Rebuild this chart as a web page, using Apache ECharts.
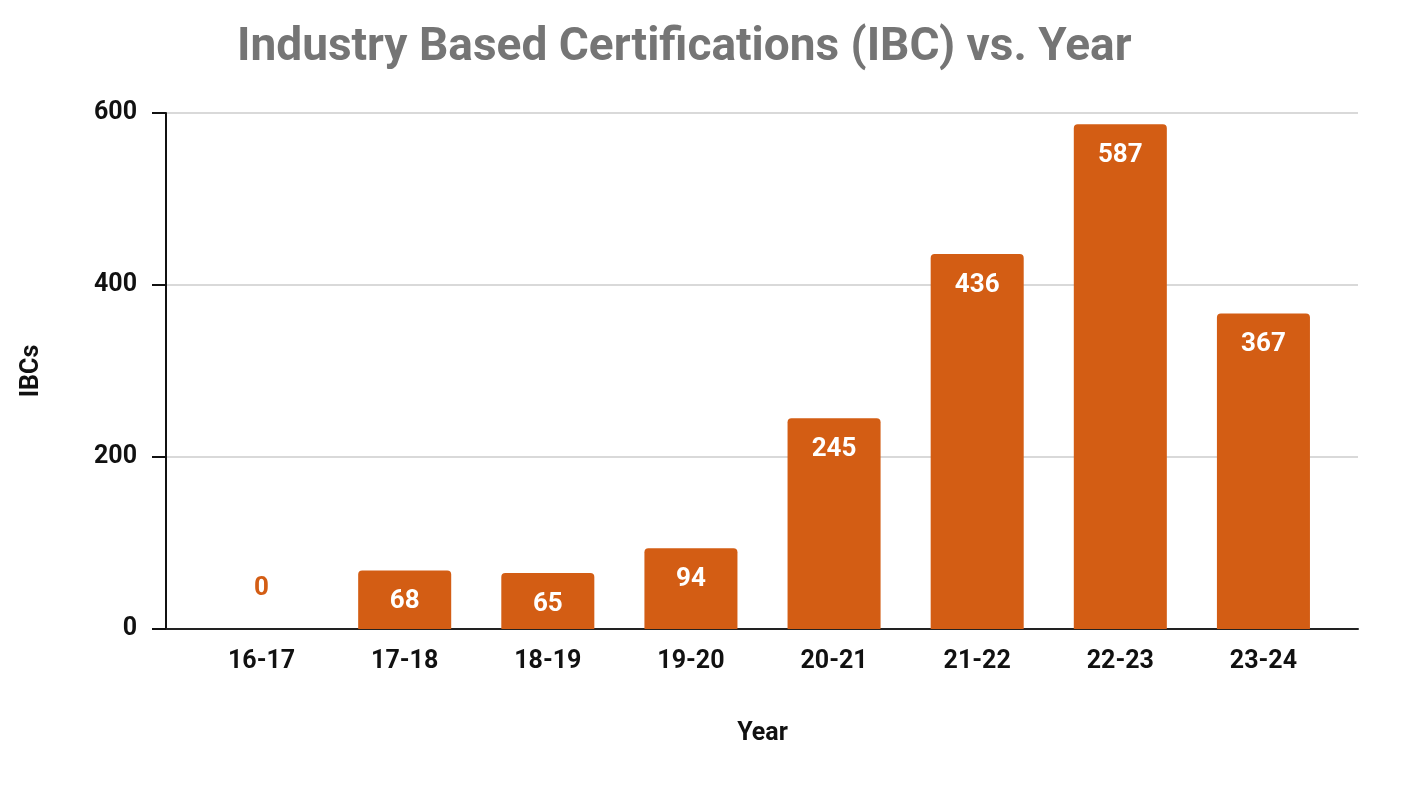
<!DOCTYPE html>
<html>
<head>
<meta charset="utf-8">
<script src="https://cdn.jsdelivr.net/npm/echarts@6/dist/echarts.min.js"></script>
<style>
html,body{margin:0;padding:0;background:#fff;}
#chart{width:1403px;height:785px;}
</style>
</head>
<body>
<div id="chart"></div>
<script>
const categories = ['16-17','17-18','18-19','19-20','20-21','21-22','22-23','23-24'];
const ibcValues = [0, 68, 65, 94, 245, 436, 587, 367];
const yTicks = [0, 200, 400, 600];

const barColor = '#D35D14';
const font = 'Roboto';

const chart = echarts.init(document.getElementById('chart'));
const seriesData = ibcValues.map(v => v === 0 ? {
  value: v,
  label: {position: 'top', distance: 28, color: barColor}
} : v);

chart.setOption({
  backgroundColor: '#ffffff',
  animation: false,
  title: {
    text: 'Industry Based Certifications (IBC) vs. Year',
    left: 232, top: 20,
    textStyle: {fontFamily: font, fontWeight: 'bold', fontSize: 46, color: '#757575'}
  },
  grid: [
    {left: 166, right: 45, top: 113, bottom: 156},
    {left: 190, right: 68, top: 113, bottom: 156}
  ],
  xAxis: [
    {
      gridIndex: 0, type: 'value', min: 0, max: 1,
      axisLine: {show: true, lineStyle: {color: '#222', width: 2}},
      axisTick: {show: false}, axisLabel: {show: false}, splitLine: {show: false}
    },
    {
      gridIndex: 1, type: 'category', data: categories,
      axisLine: {show: false}, axisTick: {show: false},
      axisLabel: {margin: 20, fontFamily: font, fontWeight: 'bold', fontSize: 25, color: '#111'},
      name: 'Year', nameLocation: 'middle', nameGap: 92,
      nameTextStyle: {fontFamily: font, fontWeight: 'bold', fontSize: 25, color: '#111'}
    }
  ],
  yAxis: [
    {
      gridIndex: 0, type: 'value', min: yTicks[0], max: yTicks[yTicks.length-1], interval: 200,
      axisLine: {show: true, lineStyle: {color: '#111', width: 2}},
      axisTick: {show: true, length: 14, lineStyle: {color: '#111', width: 2}},
      axisLabel: {margin: 29, fontFamily: font, fontWeight: 'bold', fontSize: 25, color: '#111'},
      splitLine: {show: true, lineStyle: {color: '#cccccc', width: 1.5}},
      name: 'IBCs', nameLocation: 'middle', nameGap: 122, nameRotate: 90,
      nameTextStyle: {fontFamily: font, fontWeight: 'bold', fontSize: 25, color: '#111'}
    },
    {
      gridIndex: 1, type: 'value', min: 0, max: 600, show: false
    }
  ],
  series: [{
    type: 'bar', xAxisIndex: 1, yAxisIndex: 1,
    data: seriesData,
    barWidth: '65%',
    itemStyle: {color: barColor, borderRadius: [4,4,0,0]},
    label: {
      show: true, position: 'insideTop', distance: 18,
      fontFamily: font, fontWeight: 'bold', fontSize: 26, color: '#ffffff'
    },
    z: 3
  }]
});
</script>
</body>
</html>
